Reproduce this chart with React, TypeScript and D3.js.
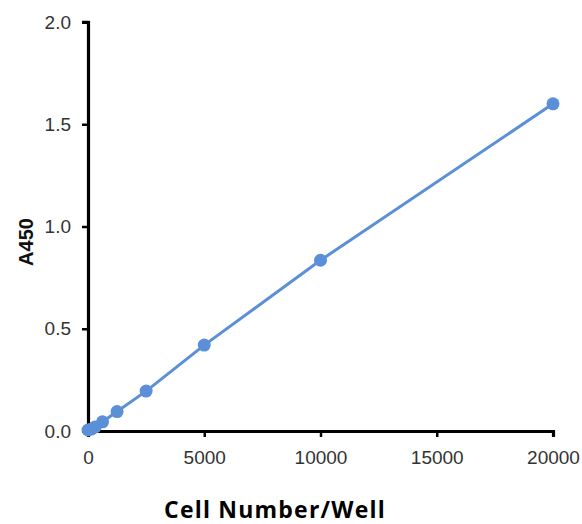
import * as d3 from 'd3';
import { useEffect, useRef } from 'react';

const cellNumbers = [0, 156, 312, 625, 1250, 2500, 5000, 10000, 20000];
const a450 = [0.005, 0.01, 0.02, 0.045, 0.095, 0.195, 0.42, 0.835, 1.6];
const xTicks = [0, 5000, 10000, 15000, 20000];
const yTicks = [0, 0.5, 1.0, 1.5, 2.0];

const width = 582;
const height = 524;
const blue = '#5b8fd8';

const App = () => {
  const ref = useRef<SVGSVGElement>(null);

  useEffect(() => {
    const svg = d3.select(ref.current).attr('viewBox', [0, 0, width, height]);
    svg.selectAll('*').remove();

    const x = d3.scaleLinear([0, 20000], [88, 553]);
    const y = d3.scaleLinear([0, 2], [431, 22]);

    const xAxis = svg
      .append('g')
      .attr('transform', `translate(0,${y(0)})`)
      .call(d3.axisBottom(x).tickValues(xTicks).tickFormat(d3.format('d')).tickSizeOuter(0).tickSize(6).tickPadding(14));
    xAxis.select('.domain').attr('stroke', '#000').attr('stroke-width', 3.2);
    xAxis.selectAll('.tick line').attr('stroke', '#000').attr('stroke-width', 2.5);
    xAxis
      .selectAll('.tick text')
      .attr('fill', '#333')
      .attr('font-size', 19)
      .attr('font-family', 'Liberation Sans, Arial, sans-serif');

    const yAxis = svg
      .append('g')
      .attr('transform', `translate(${x(0)},0)`)
      .call(d3.axisLeft(y).tickValues(yTicks).tickFormat(d3.format('.1f')).tickSizeOuter(0).tickSize(6).tickPadding(11));
    yAxis.select('.domain').attr('stroke', '#000').attr('stroke-width', 3.2);
    yAxis.selectAll('.tick line').attr('stroke', '#000').attr('stroke-width', 2.5);
    yAxis
      .selectAll('.tick text')
      .attr('fill', '#333')
      .attr('font-size', 19)
      .attr('font-family', 'Liberation Sans, Arial, sans-serif');

    // top cap on the y axis, like the reference
    svg
      .append('line')
      .attr('x1', x(0) - 6)
      .attr('x2', x(0) + 1.6)
      .attr('y1', y(2))
      .attr('y2', y(2))
      .attr('stroke', '#000')
      .attr('stroke-width', 2.5);

    const data = cellNumbers.map((c, i) => ({ c, v: a450[i] }));

    const line = d3
      .line<{ c: number; v: number }>()
      .x((d) => x(d.c))
      .y((d) => y(d.v));

    svg
      .append('path')
      .datum(data)
      .attr('d', line)
      .attr('fill', 'none')
      .attr('stroke', blue)
      .attr('stroke-width', 3);

    svg
      .selectAll('_pt')
      .data(data)
      .enter()
      .append('circle')
      .attr('cx', (d) => x(d.c))
      .attr('cy', (d) => y(d.v))
      .attr('r', 6.5)
      .attr('fill', blue);

    svg
      .append('text')
      .attr('transform', `translate(33,242) rotate(-90)`)
      .attr('text-anchor', 'middle')
      .attr('font-family', 'Liberation Sans, Arial, sans-serif')
      .attr('font-weight', 'bold')
      .attr('font-size', 20)
      .attr('fill', '#111')
      .text('A450');

    svg
      .append('text')
      .attr('x', 275)
      .attr('y', 518)
      .attr('text-anchor', 'middle')
      .attr('font-family', 'Open Sans, Noto Sans, sans-serif')
      .attr('font-weight', 'bold')
      .attr('font-size', 23)
      .attr('letter-spacing', 1.2)
      .attr('fill', '#000')
      .text('Cell Number/Well');
  }, []);

  return (
    <div>
      <svg
        ref={ref}
        width={width}
        height={height}
        style={{ position: 'absolute', left: 0, top: 0, background: '#fff' }}
      />
    </div>
  );
};

export default App;
